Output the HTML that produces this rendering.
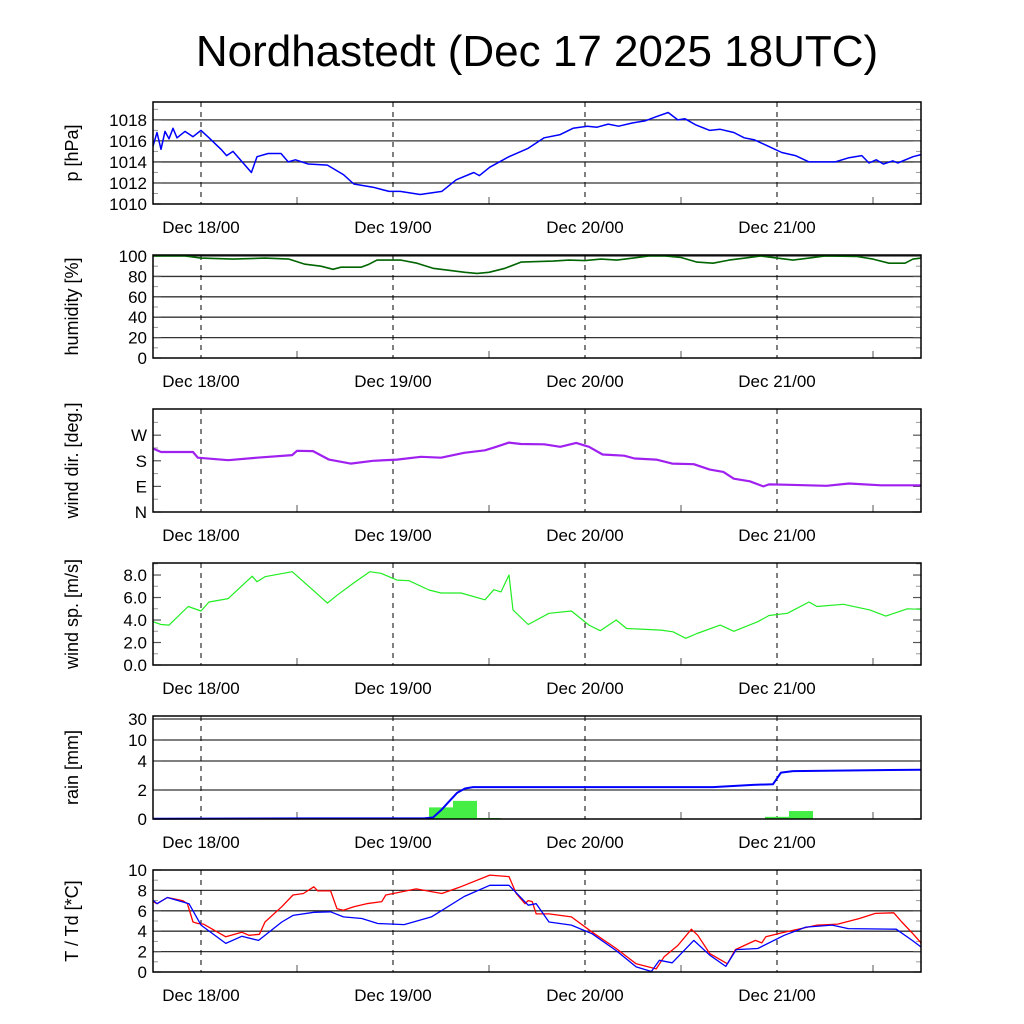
<!DOCTYPE html>
<html><head><meta charset="utf-8">
<style>
html,body{margin:0;padding:0;background:#fff;}
svg{display:block;font-family:"Liberation Sans",sans-serif;}
</style></head>
<body>
<svg id="chart" width="1024" height="1024" viewBox="0 0 1024 1024" xmlns="http://www.w3.org/2000/svg">
<rect width="1024" height="1024" fill="#fff"/>
<text x="537" y="66" font-size="44" text-anchor="middle">Nordhastedt (Dec 17 2025 18UTC)</text>
<g id="g"></g>
</svg>
<script>
// hours since Dec 17 2025 18UTC
const dayLabels = ["Dec 18/00","Dec 19/00","Dec 20/00","Dec 21/00"];
const dayHours = [6,30,54,78];

const pT = [0,0.5,1,1.5,2,2.5,3,4,5,6,7,8.5,9.2,10,12.3,13,14.4,16,16.9,17.8,19.4,21.8,23.8,25.1,27.5,29.5,30.9,33.4,36.1,37.9,40.1,40.8,42.1,44.5,46.9,48.9,50.9,52.5,54.3,55.5,56.9,58.2,59.9,61.5,62.9,64.4,65.6,66.5,67.9,69.6,70.9,72.6,73.9,75.2,76.9,78.6,80.3,82,85.3,87,88.6,89.5,90.4,91.3,92.5,93.1,95,96];
const pV = [1015.5,1016.8,1015.2,1016.9,1016.2,1017.2,1016.3,1016.9,1016.4,1017.0,1016.3,1015.2,1014.6,1015.0,1013.0,1014.5,1014.8,1014.8,1014.0,1014.2,1013.8,1013.7,1012.8,1011.9,1011.6,1011.2,1011.2,1010.9,1011.2,1012.3,1013.0,1012.7,1013.5,1014.5,1015.3,1016.3,1016.6,1017.2,1017.4,1017.3,1017.6,1017.4,1017.7,1017.9,1018.3,1018.7,1018.0,1018.1,1017.5,1017.0,1017.1,1016.8,1016.3,1016.1,1015.5,1014.9,1014.6,1014.0,1014.0,1014.4,1014.6,1013.9,1014.2,1013.8,1014.1,1013.9,1014.5,1014.7];

const hT = [0,4,6,10,14,17,19,21,22.5,23.5,26,27,28,31,33,35,37,39,40.5,42,44,46,50,52,54,56,58,60,62,64,66,68,70,72,74,76,78,80,82,84,88,90,92,94,95,96];
const hV = [100,100,98,97,98,97,92,90,87,89,89,92,96,96,93,88,86,84,83,84,88,94,95,96,95.5,97,96,98,100,100,98.5,94,93,96,98,100,98,96,98,100,99.5,97,93,93,97,98];

const dT = [0,1,5,5.6,9.4,13,17.4,18,20,22,24.7,27.5,30.5,33.5,36,38.9,41.5,42.9,44.5,46,48.9,50.9,52.9,54.5,56.2,58.9,60.2,62.9,64.9,67.6,69.6,71.3,72.6,74.6,76.3,77,78.9,84.2,87,91,96];
const dV = [223,211,211,191,182,191,200,215,214,184,170,180,184,194,191,208,217,229,244,239,238,229,243,229,202,198,188,184,170,168,149,141,117,108,90,97,96,92,100,94,94];

const sT = [0,1,2,4.4,6,7,9.4,12.4,13,14,17.4,20.1,21.8,23,25.1,27.1,28.5,30.5,32,34.5,36,38.5,41.5,42.6,43.5,44.5,45,46.9,49.5,52.3,54.5,55.9,57.9,59.2,63.5,65,66.6,68,70.9,72.6,75.6,77,79.3,82,83,86.3,89.6,91.6,94.3,96];
const sV = [3.85,3.6,3.55,5.2,4.8,5.6,5.9,7.9,7.4,7.85,8.3,6.6,5.5,6.2,7.3,8.3,8.15,7.55,7.5,6.67,6.4,6.4,5.8,6.7,6.5,8.0,4.9,3.6,4.6,4.8,3.55,3.05,4.0,3.25,3.1,2.95,2.37,2.8,3.55,3.0,3.85,4.4,4.6,5.6,5.2,5.4,4.9,4.35,5.0,4.95];

const rainCumT = [0,20,34,35,36,37,38,39,40,70,75,77.5,78.5,80,96];
const rainCumV = [0.02,0.04,0.05,0.1,0.6,1.2,1.8,2.1,2.2,2.2,2.35,2.4,3.2,3.3,3.4];
const rainBarT = [15,18,36,39,42,75,78,81];
const rainBarV = [0.03,0.05,0.8,1.25,0.07,0.03,0.15,0.55];

const tT = [0,0.5,1.8,3.7,4.3,5,5.6,6.3,9.1,11.1,12,13.3,14,16.1,17.5,18.8,20.1,20.6,22.2,23,23.8,25.1,26.7,28.6,29.1,32.9,36.1,38.3,42.1,44.5,45.4,46.5,46.9,47.4,47.9,49.5,52.3,54.9,57.9,60.4,62.9,63.9,65.6,67.3,68.1,69.6,71.8,72.8,75.3,76.1,76.6,78.9,83,85.6,88.3,90.3,92.6,93.6,95,95.9,96];
const tV = [6.9,6.7,7.3,7.0,6.7,4.9,4.75,4.7,3.45,3.9,3.6,3.7,4.9,6.4,7.55,7.7,8.35,7.95,7.95,6.2,6.05,6.4,6.7,6.9,7.55,8.15,7.7,8.3,9.5,9.35,7.7,6.7,7.0,6.9,5.7,5.7,5.4,3.9,2.3,0.8,0.3,1.5,2.6,4.2,3.6,1.8,0.8,2.2,3.1,2.85,3.45,3.9,4.6,4.7,5.25,5.75,5.8,4.9,3.75,2.95,2.8];

const tdT = [0,0.5,1.8,4.5,6,9.1,11.1,13.2,16.1,17.5,20.1,22.2,23.8,26.1,28.1,31.4,34.8,38.9,42.1,44.5,46.9,47.9,49.5,52.3,54.9,57.9,60.4,62.3,63.3,64.9,67.6,69.6,71.6,72.9,75.6,78.9,81.6,84.9,86.9,92.9,94.9,96];
const tdV = [7.05,6.7,7.3,6.7,4.6,2.8,3.5,3.1,4.9,5.55,5.85,5.9,5.4,5.25,4.75,4.65,5.4,7.4,8.5,8.5,6.55,6.7,4.9,4.6,3.75,2.1,0.5,0.05,1.15,0.9,3.1,1.65,0.55,2.2,2.3,3.6,4.4,4.6,4.25,4.2,3.1,2.45];

const NS='http://www.w3.org/2000/svg';
const G=document.getElementById('g');
const X0=153, X1=921;
function xs(t){return X0+t*(X1-X0)/96;}
function el(tag,attrs,parent){const e=document.createElementNS(NS,tag);for(const k in attrs)e.setAttribute(k,attrs[k]);(parent||G).appendChild(e);return e;}
function linY(top,bot,vmin,vmax){return v=>bot-(v-vmin)/(vmax-vmin)*(bot-top);}

function panel(name,top,bot,yf,ticks,tickLabels,grid,title,minorTicks){
  const g=el('g',{});
  
  
  if(grid){ticks.forEach(v=>{const y=yf(v);if(y>top+1&&y<bot-1){const l=el('line',{x1:X0,x2:X1,y1:y,y2:y,stroke:'#333','stroke-width':1.3},g);}});}
  (minorTicks||[]).forEach(v=>{const y=yf(v);el('line',{x1:X0,x2:X0+5,y1:y,y2:y,stroke:'#999','stroke-width':1},g);el('line',{x1:X1-5,x2:X1,y1:y,y2:y,stroke:'#999','stroke-width':1},g);});
  ticks.forEach((v,i)=>{const y=yf(v);
    el('line',{x1:X0,x2:X0+8,y1:y,y2:y,stroke:'#555','stroke-width':1.2},g);
    el('line',{x1:X1-8,x2:X1,y1:y,y2:y,stroke:'#555','stroke-width':1.2},g);
    const t=el('text',{x:147,y:y+6,'font-size':17,'text-anchor':'end'},g);t.textContent=tickLabels[i];
    });
  dayHours.forEach((h,i)=>{const x=xs(h);
    el('line',{x1:x,x2:x,y1:top,y2:bot,stroke:'#000','stroke-width':1,'stroke-dasharray':'5,5'},g);
    const t=el('text',{x:x,y:bot+29,'font-size':17,'text-anchor':'middle'},g);t.textContent=dayLabels[i];
    });
  [18,42,66,90].forEach(h=>{const x=xs(h);el('line',{x1:x,x2:x,y1:bot-7,y2:bot,stroke:'#555','stroke-width':1},g);});
  const yt=(top+bot)/2;
  const tt=el('text',{x:0,y:0,'font-size':18,'text-anchor':'middle',transform:`translate(78,${yt}) rotate(-90)`},g);tt.textContent=title;
  
  return g;
}
function border(top,bot){const r=el('rect',{x:X0,y:top,width:X1-X0,height:bot-top,fill:'none',stroke:'#000','stroke-width':1.5});}
function line(ts,vs,yf,color,w,name){
  const d=ts.map((t,i)=>(i?'L':'M')+xs(t).toFixed(1)+','+yf(vs[i]).toFixed(1)).join('');
  const p=el('path',{d:d,fill:'none',stroke:color,'stroke-width':w,'stroke-linejoin':'round'});
  
  
}

{const top=102,bot=204,yf=linY(top,bot,1010,1019.7);
 panel('pressure',top,bot,yf,[1010,1012,1014,1016,1018],['1010','1012','1014','1016','1018'],true,'p [hPa]',[1011,1013,1015,1017,1019]);
 line(pT,pV,yf,'#0000ff',1.5,'pressure-line');border(top,bot);}
{const top=255,bot=358,yf=linY(top,bot,0,101);
 panel('humidity',top,bot,yf,[0,20,40,60,80,100],['0','20','40','60','80','100'],true,'humidity [%]',[10,30,50,70,90]);
 line(hT,hV,yf,'#006400',1.6,'humidity-line');border(top,bot);}
{const top=409,bot=512,yf=linY(top,bot,0,362);
 panel('wind-direction',top,bot,yf,[0,90,180,270],['N','E','S','W'],false,'wind dir. [deg.]',[45,135,225,315]);
 line(dT,dV,yf,'#a020f0',2.2,'wind-direction-line');border(top,bot);}
{const top=563,bot=665,yf=linY(top,bot,0,9.07);
 panel('wind-speed',top,bot,yf,[0,2,4,6,8],['0.0','2.0','4.0','6.0','8.0'],false,'wind sp. [m/s]',[1,3,5,7,9]);
 line(sT,sV,yf,'#22ee22',1.2,'wind-speed-line');border(top,bot);}
{const top=716,bot=819;const rv=[0,2,4,10,30],ry=[819,790,761,740,719];
 const yf=v=>{if(v>=30)return 719-(v-30)*0.5;for(let i=0;i<rv.length-1;i++){if(v<=rv[i+1])return ry[i]+(v-rv[i])/(rv[i+1]-rv[i])*(ry[i+1]-ry[i]);}return 719;};
 panel('rain',top,bot,yf,rv,['0','2','4','10','30'],true,'rain [mm]',[]);
 rainBarT.forEach((t,i)=>{const x0=xs(t-1.5),x1=xs(t+1.5),y=yf(rainBarV[i]);
   const b=el('rect',{x:x0,y:y,width:x1-x0,height:bot-y,fill:'#44ee44'});
   
   });
 line(rainCumT,rainCumV,yf,'#0000ff',2,'rain-cumulative-line');border(top,bot);}
{const top=870,bot=972,yf=linY(top,bot,0,10);
 panel('temperature',top,bot,yf,[0,2,4,6,8,10],['0','2','4','6','8','10'],true,'T / Td [*C]',[1,3,5,7,9]);
 line(tT,tV,yf,'#ff0000',1.3,'temperature-line');
 line(tdT,tdV,yf,'#0000ff',1.3,'dewpoint-line');border(top,bot);}
</script>
</body></html>
